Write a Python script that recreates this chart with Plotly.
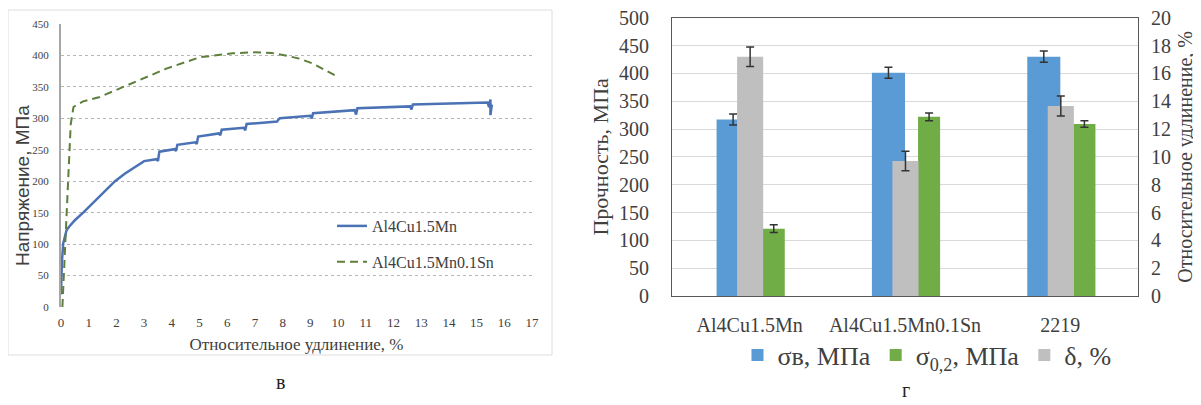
import plotly.graph_objects as go

# ---- Left chart: stress-strain curves ----
strain_mn = [0, 0.03, 0.08, 0.2, 0.3, 0.5, 0.8, 1.1, 1.4, 1.7, 1.95, 2.3, 2.7, 3.0, 3.45, 3.5, 3.55,
             4.1, 4.15, 4.2, 4.85, 4.9, 4.95, 5.7, 5.75, 5.8, 6.6, 6.65, 6.7,
             7.8, 7.85, 7.9, 9.0, 9.05, 9.1, 10.6, 10.65, 10.7, 12.6, 12.65, 12.7,
             15.4, 15.45, 15.5, 15.5, 15.55]
stress_mn = [20, 70, 101, 122, 128, 138, 150, 163, 175, 189, 200, 212, 224, 232, 235, 232, 247,
             251, 248, 258, 262, 259, 271, 276, 273, 282, 285, 281, 291,
             295, 298, 300, 304, 300, 308, 313, 306, 316, 319, 314, 322,
             325, 318, 330, 305, 322]

strain_sn = [0.05, 0.15, 0.25, 0.35, 0.45, 0.8, 1.4, 2.6, 3.8, 5.0, 6.2, 7.0, 7.6,
             8.1, 8.6, 9.1, 9.9]
stress_sn = [0, 100, 200, 290, 318, 327, 334, 357, 379, 397, 403.5, 405, 404,
             400, 395, 387, 368]

# ---- Right chart: mechanical properties ----
alloys = ["Al4Cu1.5Mn", "Al4Cu1.5Mn0.1Sn", "2219"]
sigma_b = [317, 401, 430]
sigma_b_err = [10, 10, 10]
sigma_02 = [121, 322, 309]
sigma_02_err = [7, 7, 6]
delta = [17.2, 9.7, 13.65]
delta_err = [0.7, 0.7, 0.72]

# page body has an 8px margin; lay out in screen pixels and compensate
OFF = 8
W, H = 1193, 397


def px(x):
    return (x - OFF) / W


def py(y):
    return 1 - (y - OFF) / H


SERIF = "Liberation Serif"
SANS = "Liberation Sans"

fig = go.Figure()

fig.add_trace(go.Scatter(
    x=strain_mn, y=stress_mn, mode="lines", name="Al4Cu1.5Mn",
    line=dict(color="#4a72b5", width=2.5), xaxis="x", yaxis="y",
    legend="legend", legendgroup="a"))
fig.add_trace(go.Scatter(
    x=strain_sn, y=stress_sn, mode="lines", name="Al4Cu1.5Mn0.1Sn",
    line=dict(color="#5e7f3c", width=2, dash="8px,5px"), xaxis="x", yaxis="y",
    legend="legend", legendgroup="b"))

err_style = dict(type="data", color="#333333", thickness=1.5, width=4)

fig.add_trace(go.Bar(
    x=alloys, y=sigma_b, name="σв, МПа", marker=dict(color="#5b9bd5", line=dict(width=0)),
    offset=-0.213, width=0.213, error_y=dict(array=sigma_b_err, **err_style),
    xaxis="x2", yaxis="y2", legend="legend2"))
fig.add_trace(go.Bar(
    x=alloys, y=sigma_02, name="σ<sub>0,2</sub>, МПа", marker=dict(color="#70ad47", line=dict(width=0)),
    offset=0.084, width=0.142, error_y=dict(array=sigma_02_err, **err_style),
    xaxis="x2", yaxis="y2", legend="legend2"))
fig.add_trace(go.Bar(
    x=alloys, y=delta, name="δ, %", marker=dict(color="#bfbfbf", line=dict(width=0)),
    offset=-0.081, width=0.168, error_y=dict(array=delta_err, **err_style),
    xaxis="x2", yaxis="y3", legend="legend2"))

fig.update_layout(
    width=W, height=H,
    margin=dict(l=0, r=0, t=0, b=0, autoexpand=False),
    paper_bgcolor="white", plot_bgcolor="white",
    barmode="overlay",
    font=dict(family=SERIF, color="#404040"),
    xaxis=dict(
        domain=[px(61), px(532)], range=[0, 17], dtick=1, anchor="y", automargin=False,
        showgrid=False, showline=False, zeroline=False, ticks="",
        tickfont=dict(family=SERIF, size=13, color="#404040"), ticklabelstandoff=6,
        title=dict(text="Относительное удлинение, %", font=dict(family=SERIF, size=17, color="#404040"), standoff=9),
    ),
    yaxis=dict(
        domain=[py(307), py(24)], range=[0, 450], dtick=50, anchor="x", automargin=False,
        showgrid=True, gridcolor="#b5b5b5", griddash="dot", gridwidth=1,
        showline=True, linecolor="#a6a6a6", linewidth=2, zeroline=False, ticks="",
        tickfont=dict(family=SERIF, size=11, color="#404040"), ticklabelstandoff=8,
        ticklabeloverflow="allow",
    ),
    xaxis2=dict(
        domain=[px(672), px(1138)], type="category", anchor="y2", automargin=False,
        showline=True, linecolor="#595959", linewidth=1, mirror=True, ticks="",
        tickfont=dict(family=SERIF, size=20, color="#404040"), ticklabelstandoff=11,
    ),
    yaxis2=dict(
        domain=[py(296), py(17.7)], range=[0, 500], dtick=50, anchor="x2", automargin=False,
        showgrid=True, gridcolor="#d9d9d9", gridwidth=1, zeroline=False,
        showline=True, linecolor="#595959", linewidth=1, mirror=True, ticks="",
        tickfont=dict(family=SERIF, size=20, color="#404040"), ticklabelstandoff=18,
        ticklabeloverflow="allow",
        title=dict(text="Прочность, МПа", font=dict(family=SERIF, size=22, color="#404040"), standoff=4),
    ),
    yaxis3=dict(
        overlaying="y2", side="right", anchor="x2", range=[0, 20], dtick=2, automargin=False,
        showgrid=False, zeroline=False, showline=False, ticks="",
        tickfont=dict(family=SERIF, size=20, color="#404040"), ticklabelstandoff=12,
        ticklabeloverflow="allow",
        title=dict(text="Относительное удлинение, %", font=dict(family=SERIF, size=20, color="#404040"), standoff=8),
    ),
    legend=dict(
        x=px(332), y=py(209), xanchor="left", yanchor="top",
        bgcolor="rgba(0,0,0,0)", font=dict(family=SERIF, size=16, color="#404040"),
        tracegroupgap=12, itemwidth=30,
    ),
    legend2=dict(
        orientation="h", x=px(927), y=py(355), xanchor="center", yanchor="middle",
        bgcolor="rgba(0,0,0,0)", font=dict(family=SERIF, size=26, color="#404040"),
    ),
    annotations=[
        dict(text="Напряжение, МПа", x=px(22), y=py(186), xref="paper", yref="paper",
             showarrow=False, textangle=-90, xanchor="center", yanchor="middle",
             font=dict(family=SANS, size=19, color="#404040")),
        dict(text="в", x=px(280), y=py(382), xref="paper", yref="paper", showarrow=False,
             xanchor="center", yanchor="middle",
             font=dict(family=SERIF, size=20, color="#222222")),
        dict(text="г", x=px(906), y=py(390), xref="paper", yref="paper", showarrow=False,
             xanchor="center", yanchor="middle",
             font=dict(family=SERIF, size=20, color="#222222")),
    ],
    shapes=[
        dict(type="rect", xref="paper", yref="paper", x0=px(8), y0=py(10), x1=px(552), y1=py(355),
             line=dict(color="#dedede", width=1), layer="below"),
    ],
)

fig.write_html("out.html")
